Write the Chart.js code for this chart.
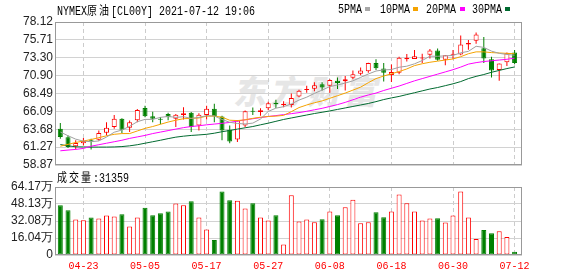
<!DOCTYPE html>
<html>
<head>
<meta charset="utf-8">
<script src="https://cdn.jsdelivr.net/npm/chart.js@4.4.0/dist/chart.umd.min.js"></script>
<style>
  body { margin: 0; width: 578px; height: 276px; position: relative; background: #fff; overflow: hidden; }
  canvas { position: absolute; left: 0; z-index: 1; }
  .txt { position: absolute; z-index: 2; font-family: "Liberation Mono", monospace; font-size: 12px; line-height: 12px;
         color: #000; white-space: nowrap; transform: scaleX(0.833); transform-origin: 0 50%; }
  .cjk { font-family: "Noto Sans CJK SC", sans-serif; letter-spacing: 2.4px; }
  .sq { position: absolute; z-index: 2; width: 5px; height: 4px; top: 7px; }
  #mark { position: absolute; z-index: 0; left: 236px; top: 66px; font-family: "Noto Sans CJK SC", sans-serif;
          font-weight: 900; font-size: 33px; letter-spacing: 4px; color: #e6e6e6; transform: skewX(-12deg); }
</style>
</head>
<body>
<div id="mark">东方财富</div>
<div class="txt" style="left:57px;top:4px">NYMEX<span class="cjk">原油</span>[CL00Y] 2021-07-12 19:06</div>
<div class="txt" style="left:338px;top:4px">5PMA</div><div class="sq" style="left:365px;background:#a8a8a8"></div>
<div class="txt" style="left:380px;top:4px">10PMA</div><div class="sq" style="left:413px;background:#f5a300"></div>
<div class="txt" style="left:426px;top:4px">20PMA</div><div class="sq" style="left:460px;background:#ff00ff"></div>
<div class="txt" style="left:472px;top:4px">30PMA</div><div class="sq" style="left:505px;background:#006a30"></div>
<div class="txt" style="left:57px;top:171px"><span class="cjk">成交量</span>:31359</div>
<canvas id="kline" width="578" height="176" style="top:0"></canvas>
<canvas id="vol" width="578" height="100" style="top:176px"></canvas>
<script>
// 交易日
var dates = ['04-20','04-21','04-22','04-23','04-26','04-27','04-28','04-29','04-30','05-03',
  '05-04','05-05','05-06','05-07','05-10','05-11','05-12','05-13','05-14','05-17',
  '05-18','05-19','05-20','05-21','05-24','05-25','05-26','05-27','05-28','05-31',
  '06-01','06-02','06-03','06-04','06-07','06-08','06-09','06-10','06-11','06-14',
  '06-15','06-16','06-17','06-18','06-21','06-22','06-23','06-24','06-25','06-28',
  '06-29','06-30','07-01','07-02','07-05','07-06','07-07','07-08','07-09','07-12'];
var labelIdx = [3, 11, 19, 27, 35, 43, 51, 59];

// K线数据
var open = [63.75,62.6,61.39,61.8,62.25,62.28,63.21,63.97,65.08,63.88,
  64.89,66.55,65.43,65.02,65.75,65.1,65.6,65.9,64.2,65.59,
  66.45,65.4,63.6,62.3,64.2,66.15,66.0,66.5,67.25,66.9,
  66.95,68.1,68.95,69.15,69.75,69.55,70.2,70.15,70.6,71.15,
  71.5,72.6,71.85,70.98,71.3,73.1,73.15,73.2,73.7,74.3,
  73.05,73.72,73.75,75.1,75.6,74.6,73.1,71.65,72.7,74.0];
var high = [64.51,62.85,62.19,62.5,62.4,63.52,64.64,65.61,65.15,64.86,
  66.41,66.85,66.05,65.33,65.9,65.75,66.65,66.0,65.82,66.85,
  67.12,65.5,64.2,64.9,66.2,66.6,66.5,67.4,67.67,67.45,
  68.5,69.0,69.55,70.0,70.0,70.4,70.65,70.85,71.6,72.0,
  72.65,73.1,72.6,72.4,73.43,73.8,74.35,73.85,74.5,74.55,
  73.65,74.35,76.3,75.7,76.7,76.1,73.45,72.55,74.0,74.35];
var low = [62.41,61.15,60.95,61.5,60.95,62.15,62.85,63.75,63.17,63.3,
  64.64,65.3,64.63,64.35,64.9,63.97,65.0,63.3,63.52,65.0,
  64.64,62.2,61.8,61.97,63.97,65.6,65.5,66.25,66.55,66.65,
  66.6,68.0,68.6,68.8,68.9,68.6,69.1,68.9,70.4,70.95,
  71.3,71.65,70.1,70.05,71.07,72.8,73.15,72.6,73.2,72.9,
  72.3,73.1,73.65,74.4,75.2,72.6,70.65,70.2,72.2,72.45];
var close = [62.64,61.3,61.84,62.11,62.15,63.17,63.88,65.08,63.61,64.64,
  66.28,65.43,65.08,64.95,65.3,65.65,65.85,63.97,65.64,66.45,
  65.42,63.52,62.05,64.85,66.1,66.05,66.25,67.17,67.05,67.1,
  67.9,68.85,69.1,69.6,69.3,70.3,69.9,70.4,71.1,71.6,
  72.6,71.9,71.3,71.38,73.3,73.3,73.5,73.35,74.3,73.05,
  73.65,73.75,75.1,75.3,76.45,73.2,71.6,72.55,73.9,72.6];

// 均线
var ma5 = [63.31,62.81,62.35,62.08,62.01,62.11,62.63,63.28,63.58,64.08,
  64.7,65.01,65.01,65.28,65.41,65.28,65.37,65.14,65.28,65.51,
  65.47,65.0,64.62,64.46,64.39,64.51,65.06,66.08,66.52,66.72,
  67.09,67.61,68.0,68.51,68.95,69.43,69.64,69.9,70.2,70.66,
  71.12,71.52,71.67,71.72,72.03,72.17,72.49,72.93,73.52,73.5,
  73.57,73.62,73.97,74.17,74.85,74.7,74.2,73.9,73.75,73.65];
var ma10 = [61.4,61.65,61.9,62.1,62.3,62.55,62.8,63.0,63.1,63.1,
  63.45,63.8,64.05,64.35,64.65,64.9,65.1,65.15,65.2,65.45,
  65.45,65.3,64.9,64.85,64.95,65.15,65.3,65.4,65.45,65.55,
  66.05,66.6,66.95,67.25,67.5,67.85,68.2,68.55,68.95,69.35,
  69.95,70.5,70.85,71.15,71.45,71.8,72.25,72.5,72.7,72.85,
  73.0,73.15,73.45,73.85,74.1,74.1,74.0,73.95,73.9,73.85];
var ma20 = [60.78,60.88,60.97,61.1,61.4,61.6,61.8,62.0,62.2,62.45,
  62.65,62.85,63.1,63.3,63.5,63.7,63.9,64.05,64.15,64.28,
  64.38,64.48,64.6,64.78,64.95,65.1,65.25,65.4,65.52,65.65,
  65.78,65.92,66.1,66.3,66.5,66.75,67.0,67.3,67.65,68.0,
  68.3,68.55,68.9,69.2,69.5,69.85,70.2,70.5,70.8,71.1,
  71.4,71.7,72.05,72.45,72.65,72.8,72.9,73.0,73.1,73.25];
var ma30 = [61.62,61.45,61.32,61.3,61.28,61.28,61.28,61.3,61.35,61.45,
  61.6,61.8,62.0,62.2,62.42,62.62,62.75,62.85,62.92,63.0,
  63.15,63.35,63.52,63.7,63.88,64.05,64.28,64.5,64.75,65.0,
  65.2,65.4,65.6,65.8,65.97,66.15,66.35,66.55,66.75,66.95,
  67.15,67.4,67.68,67.9,68.1,68.35,68.6,68.85,69.1,69.3,
  69.55,69.8,70.1,70.5,70.8,71.05,71.35,71.6,71.85,72.07];

// 成交量(万)
var volume = [46.9,42.2,33.5,32.8,35.3,34.4,37.2,36.3,38.5,26.9,
  35.3,44.7,37.5,39.4,41.0,48.5,46.9,50.7,35.3,24.1,
  14.1,60.0,51.6,51.3,43.8,48.8,35.3,32.5,37.5,10.0,
  56.3,31.6,33.5,31.0,33.8,41.0,37.5,45.0,52.2,30.0,
  31.0,40.3,35.6,41.0,57.2,48.8,41.0,32.5,34.4,34.7,
  30.7,37.2,60.0,35.3,15.0,23.5,20.6,22.5,16.9,3.14];

// 坐标刻度
var priceTicks = [58.87, 61.27, 63.68, 66.09, 68.49, 70.90, 73.30, 75.71, 78.12];
var priceTickLabels = ['58.87','61.27','63.68','66.09','68.49','70.90','73.30','75.71','78.12'];
var volTicks = [0, 16.04, 32.08, 48.13, 64.17];
var volTickLabels = ['0','16.04万','32.08万','48.13万','64.17万'];

var UP = '#ff0000', DOWN = '#008000';
var upDown = open.map(function(o, i) { return close[i] >= o ? UP : DOWN; });
var hollow = open.map(function(o, i) { return close[i] >= o ? '#ffffff' : DOWN; });

// 边框
var frame = {
  id: 'frame',
  afterDraw: function(chart) {
    var a = chart.chartArea, c = chart.ctx;
    c.save();
    c.strokeStyle = '#999';
    c.lineWidth = 1;
    c.strokeRect(Math.round(a.left) + 0.5, Math.round(a.top) + 0.5,
      Math.round(a.right - a.left) - 1, Math.round(a.bottom - a.top) - 1);
    c.restore();
  }
};

function xAxis(showLabels) {
  return {
    type: 'linear', min: -0.69, max: 59.96, offset: false,
    afterBuildTicks: function(s) { s.ticks = labelIdx.map(function(v) { return { value: v }; }); },
    afterFit: function(s) { s.height = showLabels ? 21 : 0; },
    grid: { color: '#cccccc', drawTicks: false, offset: false },
    border: { display: false, dash: [4, 3] },
    ticks: {
      display: showLabels, autoSkip: false, maxRotation: 0, padding: 5,
      color: '#ff0000', font: { family: 'Liberation Mono', size: 10 },
      callback: function(v) { return dates[v]; }
    }
  };
}

function yAxis(min, max, ticks, labels) {
  return {
    min: min, max: max,
    afterBuildTicks: function(s) { s.ticks = ticks.map(function(v) { return { value: v }; }); },
    afterFit: function(s) { s.width = 55; },
    grid: { color: '#d2d2d2', drawTicks: false },
    border: { display: false },
    ticks: {
      autoSkip: false, padding: 2, color: '#222', font: { family: 'Liberation Sans', size: 12 },
      callback: function(v, i) { return labels[i]; }
    }
  };
}

function maLine(data, color) {
  return {
    type: 'line',
    data: data.map(function(v, i) { return { x: i, y: v }; }),
    borderColor: color, borderWidth: 1, pointRadius: 0, tension: 0, order: 1
  };
}

var kChart = new Chart(document.getElementById('kline'), {
  type: 'bar',
  data: {
    datasets: [
      maLine(ma5, '#a0a0a0'),
      maLine(ma10, '#f5a300'),
      maLine(ma20, '#ff00ff'),
      maLine(ma30, '#006a30'),
      {
        data: open.map(function(o, i) { return { x: i, y: [o, close[i]] }; }),
        backgroundColor: hollow, borderColor: upDown, borderWidth: 1, borderSkipped: false,
        barThickness: 5, minBarLength: 1, grouped: false, inflateAmount: 0, order: 2
      },
      {
        data: low.map(function(l, i) { return { x: i, y: [l, high[i]] }; }),
        backgroundColor: upDown, barThickness: 1, grouped: false, inflateAmount: 0, order: 3
      }
    ]
  },
  options: {
    responsive: false, animation: false, devicePixelRatio: 1,
    layout: { padding: { left: 0, right: 56, top: 22, bottom: 11 } },
    plugins: { legend: { display: false }, tooltip: { enabled: false } },
    scales: { x: xAxis(false), y: yAxis(58.87, 78.12, priceTicks, priceTickLabels) }
  },
  plugins: [frame]
});

var vChart = new Chart(document.getElementById('vol'), {
  type: 'bar',
  data: {
    datasets: [{
      data: volume.map(function(v, i) { return { x: i, y: v }; }),
      backgroundColor: hollow, borderColor: upDown, borderWidth: 1, borderSkipped: false,
      barThickness: 5, inflateAmount: 0
    }]
  },
  options: {
    responsive: false, animation: false, devicePixelRatio: 1,
    layout: { padding: { left: 0, right: 56, top: 11, bottom: 0 } },
    plugins: { legend: { display: false }, tooltip: { enabled: false } },
    scales: { x: xAxis(true), y: yAxis(0, 64.17, volTicks, volTickLabels) }
  },
  plugins: [frame]
});
</script>
</body>
</html>
